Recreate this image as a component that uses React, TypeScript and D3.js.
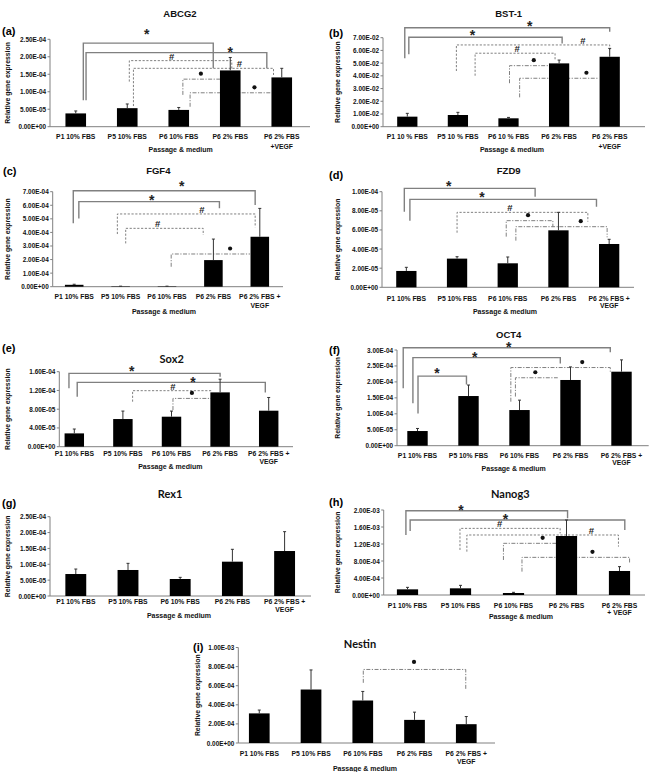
import React from 'react';
import * as d3 from 'd3';

const W = 654;
const H = 772;

// ---------- category labels ----------
const labelsA = [['P1 10% FBS'], ['P5 10% FBS'], ['P6 10% FBS'], ['P6 2% FBS'], ['P6 2% FBS', '+VEGF']];
const labelsB = [['P1 10 % FBS'], ['P5 10 % FBS'], ['P6 10 % FBS'], ['P6 2% FBS'], ['P6 2% FBS', '+VEGF']];
const labelsC = [['P1 10% FBS'], ['P5 10% FBS'], ['P6 10% FBS'], ['P6 2% FBS'], ['P6 2% FBS +', 'VEGF']];
const labelsH = [['P1 10% FBS'], ['P5 10% FBS'], ['P6 10% FBS'], ['P6 2% FBS'], ['P6 2% FBS', '+ VEGF']];

// ---------- values (mean) and SD ----------
const abcg2Values = [3.8e-5, 5.3e-5, 4.8e-5, 1.61e-4, 1.41e-4];
const abcg2Sd = [0.7e-5, 1.2e-5, 0.7e-5, 3.7e-5, 2.6e-5];
const bst1Values = [7.9e-3, 9.2e-3, 6.6e-3, 4.98e-2, 5.5e-2];
const bst1Sd = [2.6e-3, 2.1e-3, 0.7e-3, 2.6e-3, 6.6e-3];
const fgf4Values = [1.4e-5, 3e-6, 3e-6, 1.96e-4, 3.68e-4];
const fgf4Sd = [0.4e-5, 1e-6, 1e-6, 1.55e-4, 2.09e-4];
const fzd9Values = [1.71e-5, 3.0e-5, 2.51e-5, 5.96e-5, 4.53e-5];
const fzd9Sd = [0.38e-5, 0.2e-5, 0.66e-5, 1.88e-5, 0.49e-5];
const sox2Values = [2.84e-5, 5.9e-5, 6.4e-5, 1.159e-4, 7.68e-5];
const sox2Sd = [0.93e-5, 1.7e-5, 1.2e-5, 2.81e-5, 2.82e-5];
const oct4Values = [4.6e-5, 1.557e-4, 1.118e-4, 2.06e-4, 2.32e-4];
const oct4Sd = [0.8e-5, 3.45e-5, 3.1e-5, 4.1e-5, 3.7e-5];
const rex1Values = [6.93e-5, 8.2e-5, 5.36e-5, 1.082e-4, 1.418e-4];
const rex1Sd = [1.57e-5, 2.1e-5, 0.52e-5, 3.9e-5, 6.1e-5];
const nanog3Values = [1.33e-4, 1.57e-4, 4.7e-5, 1.388e-3, 5.65e-4];
const nanog3Sd = [4.7e-5, 7e-5, 1.6e-5, 3.77e-4, 1.02e-4];
const nestinValues = [3.1e-4, 5.6e-4, 4.45e-4, 2.42e-4, 1.97e-4];
const nestinSd = [0.35e-4, 2.05e-4, 0.95e-4, 0.81e-4, 0.8e-4];

// ---------- significance brackets (x in category index, y in data units) ----------
type Bracket = { a: number; b: number; top: number; la: number | null; lb: number | null; kind: string; lx: number; lift?: number };
const B = (a: number, b: number, top: number, la: number | null, lb: number | null, kind: string, lx: number, lift?: number): Bracket => ({ a, b, top, la, lb, kind, lx, lift });

const abcg2Brackets = [
  B(0.147, 2.67, 2.39e-4, 7.6e-5, 1.67e-4, '*', 1.38, 11.7),
  B(0.2, 3.71, 2.12e-4, 7.6e-5, 1.67e-4, '*', 3.0, 3.5),
  B(1.04, 3.03, 1.89e-4, 1.29e-4, 1.62e-4, '#', 1.86),
  B(1.12, 3.84, 1.67e-4, 5.9e-5, 1.48e-4, '#', 3.18),
  B(2.08, 2.8, 1.36e-4, 9.1e-5, null, 'dot', 2.43),
  B(2.22, 3.8, 9.7e-5, 5.7e-5, null, 'dot', 3.47),
];
const bst1Brackets = [
  B(-0.05, 4.0, 0.0778, 0.0538, 0.0747, '*', 2.42),
  B(0.03, 3.06, 0.0703, 0.0569, 0.0655, '*', 1.29),
  B(0.97, 4.0, 0.0643, 0.0438, 0.0603, '#', 3.47),
  B(1.34, 2.92, 0.0578, 0.0401, 0.053, '#', 2.17),
  B(2.02, 2.81, 0.048, 0.0342, null, 'dot', 2.5),
  B(2.22, 3.78, 0.0381, 0.0231, null, 'dot', 3.54),
];
const fgf4Brackets = [
  B(-0.02, 3.9, 7.07e-4, 4.67e-4, 6.02e-4, '*', 2.32, 7.3),
  B(0.1, 3.13, 6.27e-4, 5.03e-4, 5.78e-4, '*', 1.67, 4.3),
  B(0.93, 3.9, 5.36e-4, 3.88e-4, 4.38e-4, '#', 2.75),
  B(1.11, 2.78, 4.3e-4, 3.19e-4, 3.81e-4, '#', 1.8),
  B(2.09, 3.79, 2.41e-4, 1.47e-4, null, 'dot', 3.36),
];
const fzd9Brackets = [
  B(-0.04, 2.54, 1.035e-4, 7.91e-5, 9.48e-5, '*', 0.835),
  B(0.07, 3.75, 9.2e-5, 6.97e-5, 8.43e-5, '*', 1.49),
  B(1.0, 3.58, 7.84e-5, 5.71e-5, 6.86e-5, '#', 2.04),
  B(1.97, 2.89, 6.97e-5, 5.3e-5, 6.3e-5, 'dot', 2.4),
  B(2.16, 3.96, 6.34e-5, 4.88e-5, 5.23e-5, 'dot', 3.44),
];
const sox2Brackets = [
  B(-0.11, 3.0, 1.565e-4, 1.245e-4, 1.493e-4, '*', 1.18),
  B(0.06, 3.93, 1.373e-4, 1.067e-4, 1.158e-4, '*', 2.44, 3.3),
  B(1.2, 2.83, 1.195e-4, 9.6e-5, null, '#', 2.03),
  B(2.03, 2.81, 1.03e-4, 7.82e-5, null, 'dot', 2.42),
];
const oct4Brackets = [
  B(-0.28, 3.78, 3.07e-4, 1.8e-4, 2.93e-4, '*', 1.79, 3.3),
  B(-0.09, 2.8, 2.76e-4, 1.33e-4, 2.58e-4, '*', 1.12, 3.5),
  B(0.01, 0.96, 2.18e-4, 1.01e-4, 1.92e-4, '*', 0.38, 6),
  B(1.83, 3.78, 2.45e-4, 1.38e-4, 2.32e-4, 'dot', 3.23),
  B(1.92, 2.75, 2.13e-4, 1.54e-4, null, 'dot', 2.31),
];
const rex1Brackets: Bracket[] = [];
const nanog3Brackets = [
  B(-0.03, 3.02, 1.984e-3, 1.412e-3, 1.804e-3, '*', 1.01, 4),
  B(0.05, 4.1, 1.764e-3, 1.506e-3, 1.53e-3, '*', 1.85, 4),
  B(0.99, 2.88, 1.568e-3, 1.06e-3, 1.45e-3, '#', 1.74),
  B(1.12, 3.98, 1.412e-3, 1.02e-3, 1.138e-3, '#', 3.47),
  B(1.81, 2.82, 1.216e-3, 8.24e-4, null, 'dot', 2.55),
  B(2.16, 4.19, 8.86e-4, 5.5e-4, 7.6e-4, 'dot', 3.49),
];
const nestinBrackets = [
  B(2.01, 3.99, 7.7e-4, 6.3e-4, 5.6e-4, 'dot', 2.99, 7.5),
];

interface PanelCfg {
  letter: string; title: string; calibri?: boolean;
  values: number[]; sds: number[]; labels: string[][]; brackets: Bracket[];
  ymax: number; step: number;
  x0: number; bw: number; axisX: number; xEnd: number; y0: number; yTop: number;
  titleX: number; titleY: number; letterX: number; letterY: number;
  ylabX: number; lab1: number; lab2: number; passX: number; passY: number;
}

const panels: PanelCfg[] = [
  { letter: '(a)', title: 'ABCG2', values: abcg2Values, sds: abcg2Sd, labels: labelsA, brackets: abcg2Brackets,
    ymax: 2.5e-4, step: 5e-5, x0: 50, bw: 51.5, axisX: 50, xEnd: 310, y0: 126.7, yTop: 39.3,
    titleX: 180, titleY: 13, letterX: 2, letterY: 31, ylabX: 7, lab1: 10, lab2: 19.3, passX: 180.7, passY: 149 },
  { letter: '(b)', title: 'BST-1', values: bst1Values, sds: bst1Sd, labels: labelsB, brackets: bst1Brackets,
    ymax: 0.07, step: 0.01, x0: 382, bw: 50.6, axisX: 383, xEnd: 645, y0: 126.7, yTop: 37.7,
    titleX: 508.7, titleY: 13.5, letterX: 329, letterY: 33, ylabX: 337, lab1: 10, lab2: 19.3, passX: 512, passY: 149 },
  { letter: '(c)', title: 'FGF4', values: fgf4Values, sds: fgf4Sd, labels: labelsC, brackets: fgf4Brackets,
    ymax: 7e-4, step: 1e-4, x0: 51, bw: 46.4, axisX: 52.7, xEnd: 283, y0: 286.7, yTop: 191.7,
    titleX: 158.3, titleY: 170, letterX: 3, letterY: 171, ylabX: 7, lab1: 10, lab2: 18.3, passX: 164, passY: 311 },
  { letter: '(d)', title: 'FZD9', values: fzd9Values, sds: fzd9Sd, labels: labelsC, brackets: fzd9Brackets,
    ymax: 1e-4, step: 2e-5, x0: 381, bw: 50.7, axisX: 382, xEnd: 634, y0: 287.3, yTop: 191.7,
    titleX: 508.7, titleY: 170, letterX: 329, letterY: 175, ylabX: 337, lab1: 11, lab2: 17.7, passX: 505, passY: 311 },
  { letter: '(e)', title: 'Sox2', calibri: true, values: sox2Values, sds: sox2Sd, labels: labelsC, brackets: sox2Brackets,
    ymax: 1.6e-4, step: 4e-5, x0: 50, bw: 48.6, axisX: 59.3, xEnd: 293, y0: 446.7, yTop: 371.7,
    titleX: 171.7, titleY: 358, letterX: 2, letterY: 348, ylabX: 7, lab1: 6.6, lab2: 15, passX: 170.3, passY: 466.7 },
  { letter: '(f)', title: 'OCT4', values: oct4Values, sds: oct4Sd, labels: labelsC, brackets: oct4Brackets,
    ymax: 3e-4, step: 5e-5, x0: 392, bw: 51, axisX: 397, xEnd: 648.7, y0: 445.7, yTop: 350,
    titleX: 508.7, titleY: 334, letterX: 329, letterY: 350, ylabX: 337, lab1: 9.3, lab2: 16.3, passX: 513.7, passY: 468 },
  { letter: '(g)', title: 'Rex1', calibri: true, values: rex1Values, sds: rex1Sd, labels: labelsC, brackets: rex1Brackets,
    ymax: 2.5e-4, step: 5e-5, x0: 49.7, bw: 52.2, axisX: 50, xEnd: 311, y0: 596, yTop: 516.7,
    titleX: 170, titleY: 493, letterX: 2, letterY: 503, ylabX: 7, lab1: 5.7, lab2: 13.7, passX: 179, passY: 615 },
  { letter: '(h)', title: 'Nanog3', calibri: true, values: nanog3Values, sds: nanog3Sd, labels: labelsH, brackets: nanog3Brackets,
    ymax: 2e-3, step: 4e-4, x0: 381, bw: 53, axisX: 383.7, xEnd: 645, y0: 595, yTop: 510,
    titleX: 510.3, titleY: 493, letterX: 329, letterY: 502, ylabX: 337, lab1: 10, lab2: 17.7, passX: 521, passY: 616 },
  { letter: '(i)', title: 'Nestin', calibri: true, values: nestinValues, sds: nestinSd, labels: labelsC, brackets: nestinBrackets,
    ymax: 1e-3, step: 2e-4, x0: 233.4, bw: 51.75, axisX: 238.3, xEnd: 495, y0: 743, yTop: 647.5,
    titleX: 360, titleY: 643, letterX: 193, letterY: 647, ylabX: 197, lab1: 10, lab2: 18, passX: 365, passY: 768.3 },
];

const ARIAL = 'Liberation Sans, Arial, sans-serif';
const CALIBRI = 'Lato, Carlito, sans-serif';
const GRAY = '#808080';

function fmtE(v: number): string {
  if (v === 0) return '0.00E+00';
  const s = v.toExponential(2);
  const [m, e] = s.split('e');
  const sign = e[0] === '-' ? '-' : '+';
  const digits = e.replace(/[+-]/, '').padStart(2, '0');
  return `${m}E${sign}${digits}`;
}

function Panel({ c }: { c: PanelCfg }) {
  const x = d3.scaleBand<number>().domain(d3.range(c.values.length)).range([c.x0, c.x0 + c.values.length * c.bw]).padding(0);
  const xf = d3.scaleLinear().domain([-0.5, c.values.length - 0.5]).range([c.x0, c.x0 + c.values.length * c.bw]);
  const y = d3.scaleLinear().domain([0, c.ymax]).range([c.y0, c.yTop]);
  const nT = Math.round(c.ymax / c.step);
  const ticks = d3.range(nT + 1).map((i) => i * c.step);
  const barW = x.bandwidth() * 0.4;
  const center = (i: number) => (x(i) as number) + x.bandwidth() / 2;

  const bracketPath = (b: Bracket) => {
    const p = d3.path();
    const xa = xf(b.a);
    const xb = xf(b.b);
    if (b.la !== null) { p.moveTo(xa, y(b.la)); p.lineTo(xa, y(b.top)); } else p.moveTo(xa, y(b.top));
    p.lineTo(xb, y(b.top));
    if (b.lb !== null) p.lineTo(xb, y(b.lb));
    return p.toString();
  };
  const dash = (k: string) => (k === '*' ? undefined : k === '#' ? '2.2,1.6' : '4,1.5,1.2,1.5');

  return (
    <g>
      {/* axes */}
      <line x1={c.axisX} x2={c.axisX} y1={c.y0} y2={c.yTop} stroke={GRAY} strokeWidth={1} />
      <line x1={c.axisX} x2={c.xEnd} y1={c.y0} y2={c.y0} stroke={GRAY} strokeWidth={1} />
      {ticks.map((t, i) => (
        <g key={i}>
          <line x1={c.axisX - 2.5} x2={c.axisX} y1={y(t)} y2={y(t)} stroke={GRAY} strokeWidth={1} />
          <text x={c.axisX - 4} y={y(t)} dominantBaseline="central" textAnchor="end" fontFamily={ARIAL} fontWeight="bold" fontSize={6.4} fill="#111">{fmtE(t)}</text>
        </g>
      ))}
      {/* brackets */}
      {c.brackets.map((b, i) => (
        <path key={i} d={bracketPath(b)} fill="none" stroke={GRAY} strokeWidth={b.kind === '*' ? 1.4 : 1} strokeDasharray={dash(b.kind)} />
      ))}
      {/* bars */}
      {c.values.map((v, i) => (
        <rect key={i} x={center(i) - barW / 2} y={y(v)} width={barW} height={c.y0 - y(v)} fill="#000" />
      ))}
      {/* error bars */}
      {c.values.map((v, i) => (
        <g key={i} stroke="#333" strokeWidth={1}>
          <line x1={center(i)} x2={center(i)} y1={y(v)} y2={y(v + c.sds[i])} />
          <line x1={center(i) - 1.5} x2={center(i) + 1.5} y1={y(v + c.sds[i])} y2={y(v + c.sds[i])} />
        </g>
      ))}
      {/* bracket labels */}
      {c.brackets.map((b, i) => {
        const lx = xf(b.lx);
        const ly = y(b.top);
        if (b.kind === 'dot') {
          return <circle key={i} cx={lx} cy={ly - (b.lift ?? 5.5)} r={2.1} fill="#111" />;
        }
        if (b.kind === '#') {
          return <text key={i} x={lx} y={ly - (b.lift ?? 4.5)} dominantBaseline="central" textAnchor="middle" fontFamily={ARIAL} fontWeight="bold" fontSize={9.5} fill="#222">#</text>;
        }
        return <text key={i} x={lx} y={ly - (b.lift ?? 5) + 8} textAnchor="middle" fontFamily={ARIAL} fontWeight="bold" fontSize={14} fill="#222">*</text>;
      })}
      {/* category labels */}
      {c.labels.map((lines, i) => (
        <g key={i}>
          {lines.map((s, j) => (
            <text key={j} x={center(i)} y={c.y0 + (j === 0 ? c.lab1 : c.lab2)} dominantBaseline="central" textAnchor="middle" fontFamily={ARIAL} fontWeight="bold" fontSize={6.8} fill="#111">{s}</text>
          ))}
        </g>
      ))}
      <text x={c.passX} y={c.passY} dominantBaseline="central" textAnchor="middle" fontFamily={ARIAL} fontWeight="bold" fontSize={7} fill="#111">Passage &amp; medium</text>
      <text transform={`translate(${c.ylabX},${(c.y0 + c.yTop) / 2}) rotate(-90)`} dominantBaseline="central" textAnchor="middle" fontFamily={ARIAL} fontWeight="bold" fontSize={6.8} fill="#111">Relative gene expression</text>
      <text x={c.titleX} y={c.titleY} dominantBaseline="central" textAnchor="middle" fontFamily={c.calibri ? CALIBRI : ARIAL} fontWeight="bold" fontSize={c.calibri ? 11 : 9.5} fill="#111">{c.title}</text>
      <text x={c.letterX} y={c.letterY} dominantBaseline="central" textAnchor="start" fontFamily={ARIAL} fontWeight="bold" fontSize={11} fill="#000">{c.letter}</text>
    </g>
  );
}

export default function App() {
  return (
    <svg width={W} height={H} viewBox={`0 0 ${W} ${H}`} style={{ position: 'absolute', left: 0, top: 0, background: '#fff' }}>
      <rect x={0} y={0} width={W} height={H} fill="#fff" />
      {panels.map((p, i) => <Panel key={i} c={p} />)}
    </svg>
  );
}
